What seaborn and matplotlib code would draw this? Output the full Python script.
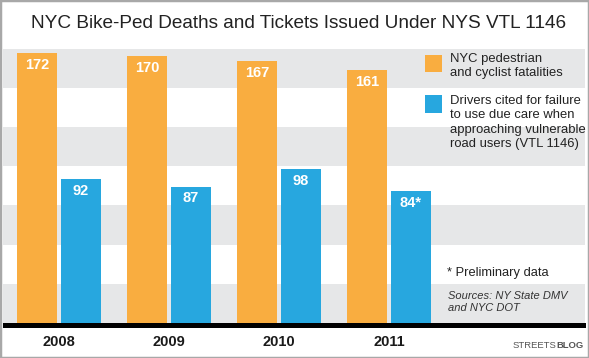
import matplotlib
matplotlib.use("Agg")
import matplotlib.pyplot as plt
import seaborn as sns
import pandas as pd
from matplotlib.patches import Rectangle

years = ["2008", "2009", "2010", "2011"]
fatalities = [172, 170, 167, 161]
citations = [92, 87, 98, 84]
citation_labels = ["92", "87", "98", "84*"]
series_names = ["NYC pedestrian\nand cyclist fatalities",
                "Drivers cited for failure\nto use due care when\napproaching vulnerable\nroad users (VTL 1146)"]

ORANGE = "#F9AD40"
BLUE = "#27A7DF"
BAND = "#E6E7E8"

df = pd.DataFrame({
    "year": years * 2,
    "value": fatalities + citations,
    "series": [series_names[0]] * 4 + [series_names[1]] * 4,
})

sns.set_theme(style="white")
plt.rcParams["font.family"] = ["Liberation Sans", "DejaVu Sans"]

W, H = 589, 358
fig = plt.figure(figsize=(W / 100, H / 100), dpi=100)
fig.patch.set_facecolor("white")

def fx(px):
    return px / W

def fy(py):
    return 1 - py / H

ax_left, ax_right, ax_top, ax_bot = 3, 585, 48.5, 323
ax = fig.add_axes([fx(ax_left), fy(ax_bot), fx(ax_right - ax_left), (ax_bot - ax_top) / H])

sns.barplot(data=df, x="year", y="value", hue="series",
            palette=[ORANGE, BLUE], width=0.8, gap=0.09,
            saturation=1, legend=False, ax=ax, zorder=3, linewidth=0)

# horizontal bands
for i, lo in enumerate(range(0, 175, 25)):
    if i % 2 == 0:
        ax.axhspan(lo, lo + 25, color=BAND, zorder=0, lw=0)

ax.set_ylim(0, 175)
unit = 110.0
ax.set_xlim(-(59 - ax_left) / unit, (ax_right - 59) / unit)
ax.set_facecolor("white")
for s in ax.spines.values():
    s.set_visible(False)
ax.set_xticks([])
ax.set_yticks([])
ax.set_xlabel("")
ax.set_ylabel("")

# value labels
for cont, labs in zip(ax.containers, [[str(v) for v in fatalities], citation_labels]):
    for rect, lab in zip(cont, labs):
        cx = rect.get_x() + rect.get_width() / 2
        top = rect.get_height()
        ax.text(cx, top - 7.6, lab, ha="center", va="center", color="white",
                fontsize=10.5, fontweight="bold", zorder=5)

# year labels
for i, yr in enumerate(years):
    ax.text(i, -12, yr, ha="center", va="center", fontsize=10.5,
            fontweight="bold", color="#1a1a1a", clip_on=False)

# black baseline
fig.add_artist(Rectangle((fx(3), fy(328)), fx(583), 5 / H, transform=fig.transFigure,
                         facecolor="black", edgecolor="none", zorder=10))

# title
fig.text(fx(299), fy(24), "NYC Bike-Ped Deaths and Tickets Issued Under NYS VTL 1146",
         ha="center", va="center", fontsize=13.7, color="#222222")

# legend
fig.add_artist(Rectangle((fx(425), fy(72)), fx(17), 17.5 / H, transform=fig.transFigure,
                         facecolor=ORANGE, edgecolor="none", zorder=10))
fig.add_artist(Rectangle((fx(425), fy(113)), fx(17), 17.5 / H, transform=fig.transFigure,
                         facecolor=BLUE, edgecolor="none", zorder=10))
fig.text(fx(450), fy(53), series_names[0], ha="left", va="top", fontsize=9.4,
         color="#222222", linespacing=1.25)
fig.text(fx(450), fy(95), series_names[1], ha="left", va="top", fontsize=9.4,
         color="#222222", linespacing=1.25)

fig.text(fx(447), fy(273), "* Preliminary data", ha="left", va="center",
         fontsize=9.3, color="#222222")
fig.text(fx(448), fy(291), "Sources: NY State DMV\nand NYC DOT", ha="left", va="top",
         fontsize=8, style="italic", color="#333333", linespacing=1.2)

# logo
blog = fig.text(fx(584), fy(348), "BLOG", ha="right", va="baseline", fontsize=6.8,
                fontweight="bold", color="#555555")
fig.canvas.draw()
bb = blog.get_window_extent(renderer=fig.canvas.get_renderer())
fig.text(bb.x0 / W - 0.5 / W, fy(348), "STREETS", ha="right", va="baseline",
         fontsize=6.8, color="#555555")

# frame
fig.add_artist(Rectangle((0, 0), 1, 1, transform=fig.transFigure, fill=False,
                         edgecolor="#A8A8A8", linewidth=2.5, zorder=20))

fig.savefig("out.png", dpi=100)
